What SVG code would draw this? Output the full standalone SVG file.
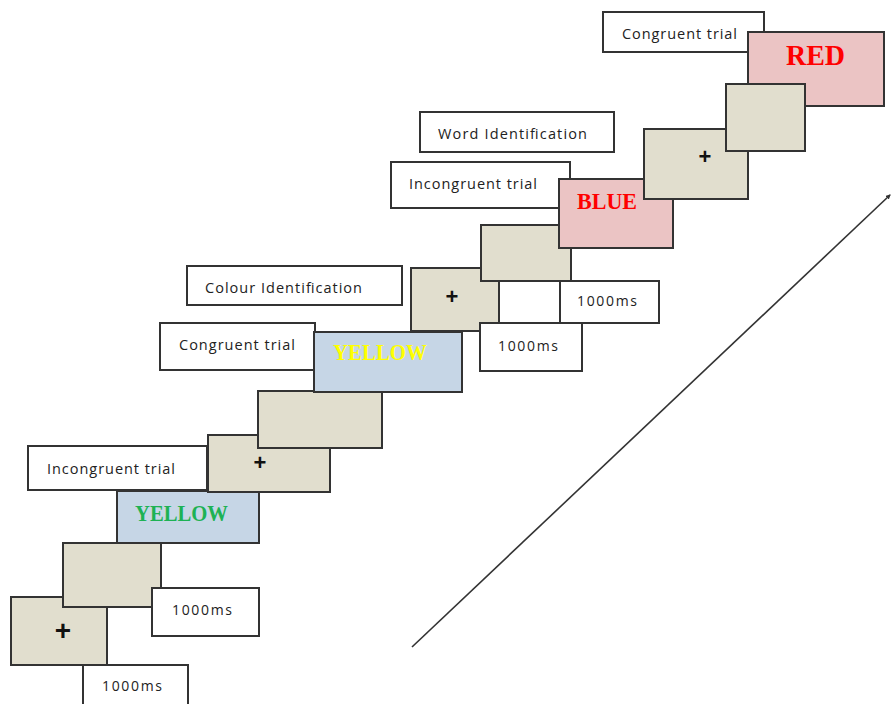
<svg xmlns="http://www.w3.org/2000/svg" width="892" height="704" viewBox="0 0 892 704">
<style>
.box{stroke:#333;stroke-width:2}
.beige{fill:#E1DECE}
.blue{fill:#C6D6E6}
.pink{fill:#EBC4C4}
.white{fill:#fff}
.lbl{font-family:"Open Sans","Liberation Sans",sans-serif;font-size:14.5px;fill:#222}
.ms{font-family:"Open Sans","Liberation Sans",sans-serif;font-size:14px;fill:#222}
.word{font-family:"Liberation Serif","Times New Roman",serif;font-weight:bold;font-size:24px}
.plus{font-family:"Liberation Sans",sans-serif;font-weight:bold;font-size:22px;fill:#111;text-anchor:middle}
</style>
<defs>
<marker id="ah" markerWidth="5" markerHeight="5" refX="4" refY="2.5" orient="auto" markerUnits="userSpaceOnUse">
<path d="M0,0 L5,2.5 L0,5 z" fill="#333"/>
</marker>
</defs>
<rect width="892" height="704" fill="#fff"/>
<g id="connectors">
<line x1="412" y1="647" x2="890" y2="195" stroke="#333" stroke-width="1.6" marker-end="url(#ah)"/>
</g>
<g id="fix1"><rect class="box beige" x="11" y="597" width="96" height="68"/><text class="plus" x="63" y="640" style="font-size:28px">+</text></g>
<g id="blank1"><rect class="box beige" x="63" y="543" width="98" height="64"/></g>
<g id="time1"><rect class="box white" x="152" y="588" width="107" height="48"/><text class="ms" x="172" y="615" textLength="60">1000ms</text></g>
<g id="time2"><rect class="box white" x="83" y="665" width="105" height="48"/><text class="ms" x="102" y="691" textLength="60">1000ms</text></g>
<g id="stim1"><rect class="box blue" x="117" y="491" width="142" height="52"/><text class="word" x="135" y="521" fill="#1DB254" textLength="93" lengthAdjust="spacingAndGlyphs">YELLOW</text></g>
<g id="label1"><rect class="box white" x="28" y="446" width="179" height="44"/><text class="lbl" x="47" y="474" textLength="128">Incongruent trial</text></g>
<g id="fix2"><rect class="box beige" x="208" y="435" width="122" height="57"/><text class="plus" x="260" y="470">+</text></g>
<g id="blank2"><rect class="box beige" x="258" y="391" width="124" height="57"/></g>
<g id="label2"><rect class="box white" x="160" y="323" width="155" height="47"/><text class="lbl" x="179" y="350" textLength="116">Congruent trial</text></g>
<g id="stim2"><rect class="box blue" x="314" y="332" width="148" height="60"/><text class="word" x="333" y="360" fill="#FFFF00" textLength="94" lengthAdjust="spacingAndGlyphs">YELLOW</text></g>
<g id="label3"><rect class="box white" x="187" y="266" width="215" height="39"/><text class="lbl" x="205" y="293" textLength="157">Colour Identification</text></g>
<g id="fix3"><rect class="box beige" x="411" y="268" width="88" height="63"/><text class="plus" x="452" y="304">+</text></g>
<g id="blank3"><rect class="box beige" x="481" y="225" width="90" height="56"/></g>
<g id="time3"><rect class="box white" x="560" y="281" width="99" height="42"/><text class="ms" x="577" y="306" textLength="60">1000ms</text></g>
<g id="time4"><rect class="box white" x="480" y="323" width="102" height="48"/><text class="ms" x="498" y="351" textLength="60">1000ms</text></g>
<g id="label4"><rect class="box white" x="391" y="162" width="179" height="46"/><text class="lbl" x="409" y="189" textLength="128">Incongruent trial</text></g>
<g id="stim3"><rect class="box pink" x="559" y="179" width="114" height="69"/><text class="word" x="577" y="209" fill="#FF0000" textLength="60" lengthAdjust="spacingAndGlyphs">BLUE</text></g>
<g id="label5"><rect class="box white" x="420" y="112" width="194" height="40"/><text class="lbl" x="438" y="139" textLength="149">Word Identification</text></g>
<g id="fix4"><rect class="box beige" x="644" y="129" width="104" height="70"/><text class="plus" x="705" y="164">+</text></g>
<g id="label6"><rect class="box white" x="603" y="12" width="161" height="40"/><text class="lbl" x="622" y="39" textLength="115">Congruent trial</text></g>
<g id="stim4"><rect class="box pink" x="748" y="32" width="136" height="74"/><text class="word" x="786" y="65" fill="#FF0000" style="font-size:29px" textLength="59" lengthAdjust="spacingAndGlyphs">RED</text></g>
<g id="blank4"><rect class="box beige" x="726" y="84" width="79" height="67"/></g>
</svg>
